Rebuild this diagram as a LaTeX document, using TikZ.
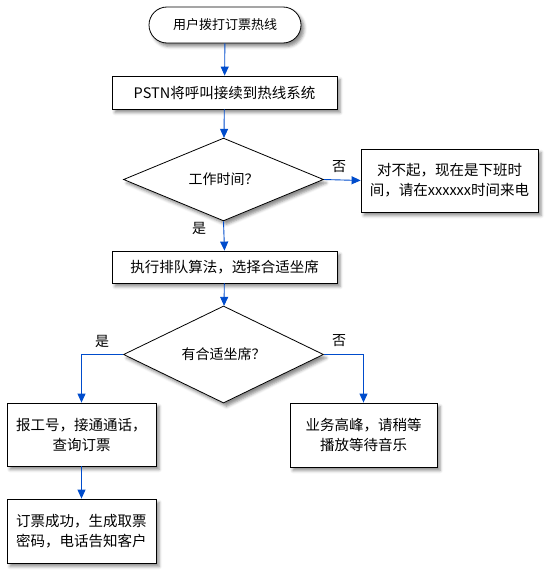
\documentclass[tikz,border=0pt]{standalone}
\usepackage{fontspec}
\setmainfont{Noto Sans CJK SC}
\usetikzlibrary{shapes.geometric,shapes.misc,arrows.meta,shadows.blur}
\definecolor{flowblue}{RGB}{0,76,204}
\tikzset{
  shade/.style={blur shadow={shadow xshift=3pt,shadow yshift=-3.5pt,shadow blur radius=3pt,shadow opacity=45}},
  procbox/.style={draw=black,line width=0.8pt,fill=white,rectangle,inner sep=0pt,align=center,shade},
  decbox/.style={draw=black,line width=0.8pt,fill=white,diamond,inner sep=0pt,minimum width=200pt,minimum height=75pt,shade,font=\fontsize{14pt}{20pt}\selectfont},
  termbox/.style={draw=black,line width=0.8pt,fill=white,rounded rectangle,inner sep=0pt,minimum width=152pt,minimum height=36pt,shade,font=\fontsize{13pt}{20pt}\selectfont},
  flow/.style={draw=flowblue,line width=0.9pt,-{Triangle[width=8pt,length=9pt]}},
  lbl/.style={inner sep=0pt,font=\fontsize{14pt}{20pt}\selectfont}
}
\begin{document}
\begin{tikzpicture}[x=1pt,y=-1pt,font=\fontsize{14.5pt}{20pt}\selectfont]
\useasboundingbox (0,0) rectangle (550,578);
\node[termbox] (start) at (225,25) {用户拨打订票热线};
\node[procbox,minimum width=225pt,minimum height=33pt] (pstn) at (224.5,92.5) {PSTN将呼叫接续到热线系统};
\node[decbox] (work) at (223.5,179.5) {工作时间？};
\node[procbox,minimum width=177pt,minimum height=63pt] (off) at (449.5,180.5) {对不起，现在是下班时\\间，请在xxxxxx时间来电};
\node[procbox,minimum width=225pt,minimum height=32pt] (queue) at (224.5,267) {执行排队算法，选择合适坐席};
\node[decbox,minimum height=73pt] (seat) at (223.5,354.5) {有合适坐席？};
\node[procbox,minimum width=149pt,minimum height=63pt] (conn) at (81.5,434.5) {报工号，接通通话，\\查询订票};
\node[procbox,minimum width=147pt,minimum height=64pt] (busy) at (363.5,435) {业务高峰，请稍等\\播放等待音乐};
\node[procbox,minimum width=149pt,minimum height=64pt] (done) at (81.5,531) {订票成功，生成取票\\密码，电话告知客户};

\draw[flow] (start) -- (pstn);
\draw[flow] (pstn) -- (work);
\draw[flow] (work.east) -- (off.west);
\draw[flow] (work.south) -- (queue.north);
\draw[flow] (queue) -- (seat);
\draw[flow] (seat.west) -| (conn.north);
\draw[flow] (seat.east) -| (busy.north);
\draw[flow] (conn) -- (done);

\node[lbl] (no1) at (339,167) {否};
\node[lbl] (yes1) at (199,228) {是};
\node[lbl] (yes2) at (102,341) {是};
\node[lbl] (no2) at (339,341) {否};
\end{tikzpicture}
\end{document}
